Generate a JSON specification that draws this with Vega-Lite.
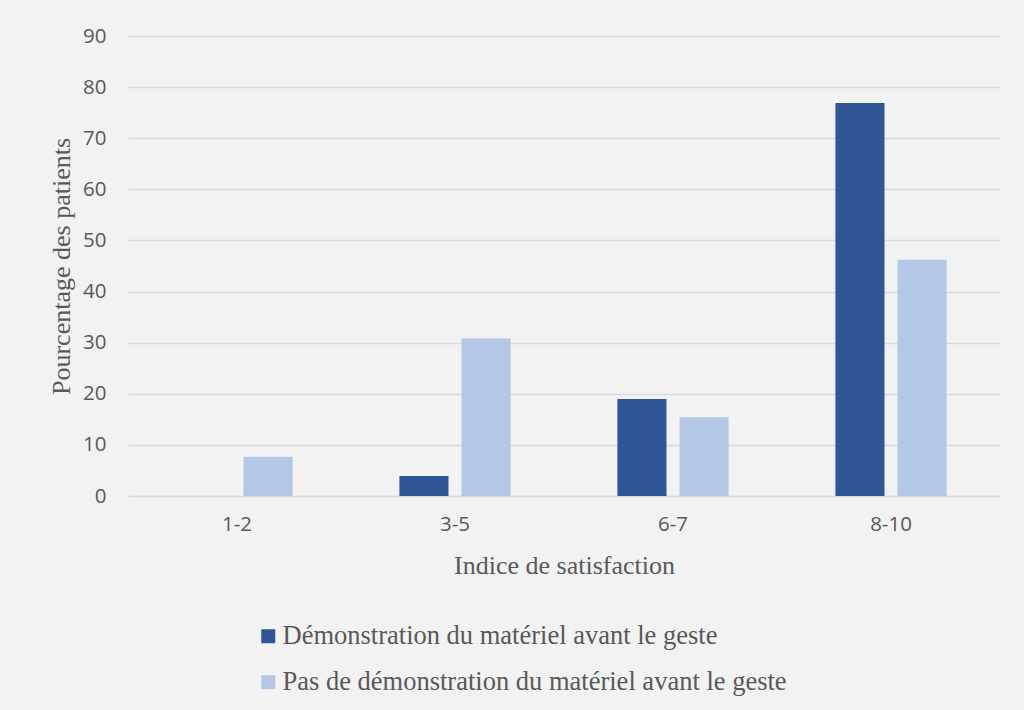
{
  "$schema": "https://vega.github.io/schema/vega-lite/v6.json",
  "width": 872,
  "height": 460,
  "autosize": {"type": "none"},
  "padding": {"left": 128, "top": 36, "right": 24, "bottom": 214},
  "background": "#f2f2f2",
  "data": {
    "values": [
      {"indice": "1-2", "groupe": "Démonstration du matériel avant le geste", "pct": 0},
      {"indice": "1-2", "groupe": "Pas de démonstration du matériel avant le geste", "pct": 7.7},
      {"indice": "3-5", "groupe": "Démonstration du matériel avant le geste", "pct": 3.9},
      {"indice": "3-5", "groupe": "Pas de démonstration du matériel avant le geste", "pct": 30.8},
      {"indice": "6-7", "groupe": "Démonstration du matériel avant le geste", "pct": 19},
      {"indice": "6-7", "groupe": "Pas de démonstration du matériel avant le geste", "pct": 15.4},
      {"indice": "8-10", "groupe": "Démonstration du matériel avant le geste", "pct": 76.9},
      {"indice": "8-10", "groupe": "Pas de démonstration du matériel avant le geste", "pct": 46.2}
    ]
  },
  "config": {
    "view": {"stroke": null},
    "axis": {"labelFont": "Open Sans", "labelFontSize": 20.5, "labelColor": "#595959", "titleFont": "Liberation Serif", "titleFontSize": 26, "titleFontWeight": "normal", "titleColor": "#595959"}
  },
  "mark": {"type": "bar"},
  "encoding": {
    "x": {
      "field": "indice", "type": "nominal", "sort": ["1-2", "3-5", "6-7", "8-10"],
      "title": "Indice de satisfaction",
      "scale": {"paddingInner": 0.49, "paddingOuter": 0.245},
      "axis": {"labelAngle": 0, "labelPadding": 18, "ticks": false, "domainColor": "#d9d9d9", "domainWidth": 1.5, "titlePadding": 18}
    },
    "xOffset": {
      "field": "groupe", "type": "nominal",
      "scale": {"paddingInner": 0.21, "paddingOuter": 0}
    },
    "y": {
      "field": "pct", "type": "quantitative",
      "title": "Pourcentage des patients",
      "scale": {"domain": [0, 90]},
      "axis": {"values": [0, 10, 20, 30, 40, 50, 60, 70, 80, 90], "domain": false, "ticks": false, "labelPadding": 22, "gridColor": "#d9d9d9", "gridWidth": 1.5, "titlePadding": 8}
    },
    "color": {
      "field": "groupe", "type": "nominal",
      "scale": {"domain": ["Démonstration du matériel avant le geste", "Pas de démonstration du matériel avant le geste"], "range": ["#2f5597", "#b4c7e7"]},
      "legend": {
        "title": null, "orient": "none", "legendX": 127, "legendY": 587, "direction": "vertical",
        "symbolType": "square", "symbolSize": 196, "symbolStrokeWidth": 0,
        "labelFont": "Liberation Serif", "labelFontSize": 26.5, "labelColor": "#595959", "labelLimit": 800,
        "labelOffset": 1, "rowPadding": 19, "padding": 0
      }
    }
  }
}
